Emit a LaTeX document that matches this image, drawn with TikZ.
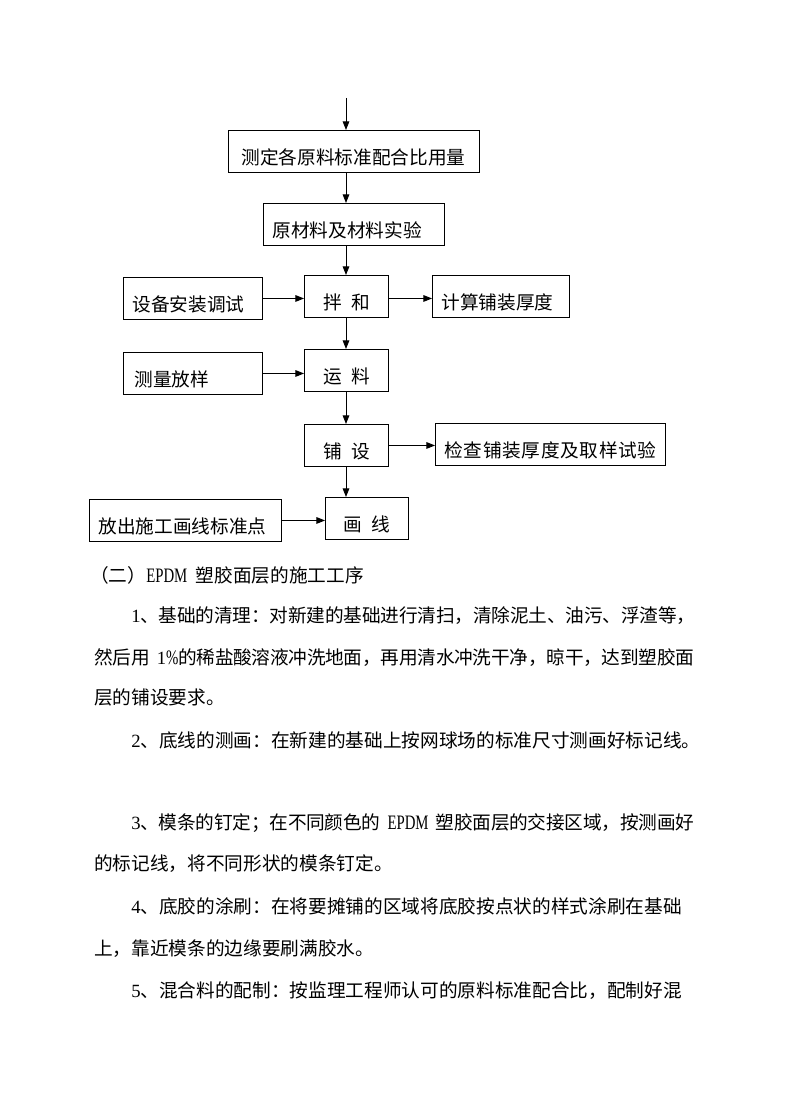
\documentclass[tikz,border=0pt]{standalone}
\usepackage{fontspec}
\newfontfamily\cjk{Noto Sans CJK SC}
\newfontfamily\lat{Liberation Serif}
\newfontfamily\latc[Scale=1.1,FakeStretch=0.72]{Liberation Serif}
\usetikzlibrary{arrows.meta}
\hbadness=10000
\hfuzz=20pt
\newcommand{\fsz}{\fontsize{14pt}{16pt}\selectfont}
\ExplSyntaxOn
\NewDocumentCommand{\jline}{m m}{\hbox_to_wd:nn {#1}{\tl_map_inline:nn {#2}{{##1}\hss}\unskip}}
\ExplSyntaxOff
\begin{document}
\begin{tikzpicture}[x=0.75pt,y=-0.75pt,
  box/.style={draw, line width=0.7pt, anchor=north west, minimum height=31.5pt,
    inner ysep=0pt, text height=19.7pt, text depth=0.2pt, font=\cjk\fsz},
  lbox/.style 2 args={box, text width=#1, inner xsep=#2, align=left},
  cbox/.style={box, minimum width=#1, inner xsep=0pt},
  arr/.style={-{Triangle[length=6.5pt,width=5pt]}, line width=0.7pt},
  para/.style={anchor=base west, inner sep=0pt, font=\cjk\fsz}]
\fill[white] (0,0) rectangle (792,1120);
\useasboundingbox (0,0) rectangle (792,1120);

% flow chart boxes
\node[lbox={168.75pt}{9.75pt}] (b1) at (228,130) {测定各原料标准配合比用量};
\node[lbox={122.25pt}{6.75pt}] (b2) at (263,203) {原材料及材料实验};
\node[lbox={90.75pt}{6.75pt}] (b3) at (123,277) {设备安装调试};
\node[cbox=63pt] (b4) at (304,275) {拌\hspace{0.5em}和};
\node[lbox={89.25pt}{6.75pt}] (b5) at (432,275) {计算铺装厚度};
\node[lbox={87.75pt}{8.25pt}] (b6) at (123,352) {测量放样};
\node[cbox=63pt] (b7) at (304,349) {运\hspace{0.5em}料};
\node[cbox=63pt] (b8) at (304,424) {铺\hspace{0.5em}设};
\node[lbox={159pt}{6.75pt}] (b9) at (435,423) {\jline{159pt}{检查铺装厚度及取样试验}};
\node[lbox={130.5pt}{6.75pt}] (b10) at (89,499) {放出施工画线标准点};
\node[cbox=62.25pt] (b11) at (325,497) {画\hspace{0.5em}线};

% connectors
\coordinate (ax) at (346,0);
\coordinate (start) at (346,98);
\draw[arr] (start) -- (b1.north -| ax);
\draw[arr] (b1.south -| ax) -- (b2.north -| ax);
\draw[arr] (b2.south -| ax) -- (b4.north -| ax);
\draw[arr] (b3.east) -- (b3.east -| b4.west);
\draw[arr] (b4.east |- b3.east) -- (b5.west |- b3.east);
\draw[arr] (b4.south -| ax) -- (b7.north -| ax);
\draw[arr] (b6.east) -- (b6.east -| b7.west);
\draw[arr] (b7.south -| ax) -- (b8.north -| ax);
\draw[arr] (b8.east) -- (b8.east -| b9.west);
\draw[arr] (b8.south -| ax) -- (b11.north -| ax);
\draw[arr] (b10.east) -- (b10.east -| b11.west);

% body text
\node[para] (L0) at (90,582) {（二）{\latc EPDM}\hspace{0.45em}塑胶面层的施工工序};
\node[para] (L1) at (131,622) {\jline{423pt}{{\lat 1}、基础的清理：对新建的基础进行清扫，清除泥土、油污、浮渣等，}};
\node[para] (L2) at (94,664) {\jline{450pt}{然后用{\hspace{0.4em}}{{\lat 1}{\latc\%}}的稀盐酸溶液冲洗地面，再用清水冲洗干净，晾干，达到塑胶面}};
\node[para] (L3) at (94,704) {层的铺设要求。};
\node[para] (L4) at (131,747) {{\lat 2}、底线的测画：在新建的基础上按网球场的标准尺寸测画好标记线。};
\node[para] (L5) at (131,829) {\jline{422.25pt}{{\lat 3}、模条的钉定；在不同颜色的{\hspace{0.4em}}{\latc EPDM}{\hspace{0.4em}}塑胶面层的交接区域，按测画好}};
\node[para] (L6) at (94,870) {的标记线，将不同形状的模条钉定。};
\node[para] (L7) at (131,913) {{\lat 4}、底胶的涂刷：在将要摊铺的区域将底胶按点状的样式涂刷在基础};
\node[para] (L8) at (94,955) {上，靠近模条的边缘要刷满胶水。};
\node[para] (L9) at (131,997) {{\lat 5}、混合料的配制：按监理工程师认可的原料标准配合比，配制好混};
\end{tikzpicture}
\end{document}
